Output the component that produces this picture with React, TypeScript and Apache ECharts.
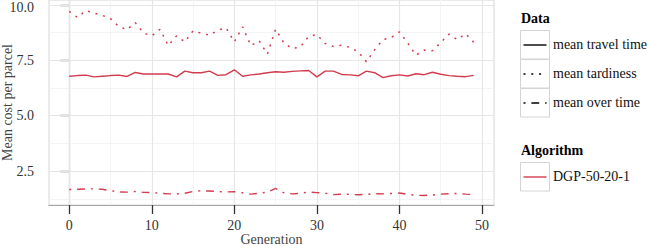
import React, { useEffect, useRef } from "react";
import * as echarts from "echarts";

const generations = [
  0, 1, 2, 3, 4, 5, 6, 7, 8, 9, 10, 11, 12, 13, 14, 15, 16, 17, 18, 19, 20, 21, 22, 23, 24,
  25, 26, 27, 28, 29, 30, 31, 32, 33, 34, 35, 36, 37, 38, 39, 40, 41, 42, 43, 44, 45, 46, 47, 48, 49,
];
const travelTime = [
  6.78, 6.81, 6.83, 6.75, 6.78, 6.81, 6.83, 6.77, 6.95, 6.88, 6.88, 6.88, 6.88, 6.75, 7.01, 6.94,
  6.94, 7.01, 6.82, 6.85, 7.07, 6.78, 6.84, 6.88, 6.94, 6.98, 6.96, 7.0, 7.02, 7.04, 6.75, 7.01,
  7.01, 6.86, 6.84, 6.8, 7.01, 6.94, 6.72, 6.8, 6.84, 6.79, 6.89, 6.85, 6.96, 6.87, 6.81, 6.78,
  6.76, 6.82,
];
const tardiness = [
  9.71, 9.43, 9.74, 9.63, 9.53, 9.38, 9.03, 8.88, 9.2, 8.73, 8.6, 8.9, 8.16, 8.6, 8.33, 8.83,
  8.72, 8.63, 8.86, 8.96, 8.33, 9.01, 8.16, 8.38, 7.78, 8.9, 8.28, 8.03, 8.1, 8.58, 8.66, 8.26,
  8.12, 8.18, 8.08, 7.88, 7.43, 7.98, 8.43, 8.53, 8.78, 8.28, 7.73, 7.96, 7.93, 8.3, 8.68, 8.43,
  8.7, 8.31,
];
const overTime = [
  1.67, 1.68, 1.69, 1.7, 1.68, 1.62, 1.56, 1.55, 1.58, 1.54, 1.53, 1.5, 1.47, 1.47, 1.5, 1.58,
  1.61, 1.6, 1.58, 1.56, 1.57, 1.52, 1.46, 1.5, 1.55, 1.72, 1.52, 1.47, 1.5, 1.55, 1.53, 1.5,
  1.44, 1.46, 1.45, 1.43, 1.45, 1.48, 1.47, 1.49, 1.51, 1.45, 1.41, 1.4, 1.42, 1.46, 1.48, 1.49,
  1.46, 1.44,
];
const xTicks = [0, 10, 20, 30, 40, 50];
const xMinorGrid = [5, 15, 25, 35, 45];
const yTicks = [2.5, 5, 7.5, 10];
const yMinorGrid = [1.25, 3.75, 6.25, 8.75];
const dataLegend = ["mean travel time", "mean tardiness", "mean over time"];
const algorithmLegend = ["DGP-50-20-1"];

const RED = "#d13c4e";
const FONT = "Liberation Serif";
const DOTTED = [2, 5.8];
const DOTDASH = [2, 5.9, 7.8, 5.9];
const dashes = [undefined, DOTTED, DOTDASH];

export default function App() {
  const ref = useRef<HTMLDivElement>(null);
  useEffect(() => {
    if (!ref.current) return;
    const chart = echarts.init(ref.current, undefined, { renderer: "svg" });
    const pairs = (vals: number[]) => vals.map((v, i) => [generations[i], v]);
    const gridLines = [
      ...yMinorGrid.map((v) => ({ yAxis: v, lineStyle: { color: "#f4f4f4", width: 1, type: "solid" } })),
      ...xMinorGrid.map((v) => ({ xAxis: v, lineStyle: { color: "#f4f4f4", width: 1, type: "solid" } })),
      ...yTicks.map((v) => ({ yAxis: v, lineStyle: { color: "#e6e6e6", width: 1.2, type: "solid" } })),
      ...xTicks.map((v) => ({ xAxis: v, lineStyle: { color: "#e6e6e6", width: 1.2, type: "solid" } })),
    ];
    const boxX = 520.5;
    const boxW = 29;
    const legendGraphics: any[] = [];
    const txt = (text: string, left: number, top: number, bold: boolean) => ({
      type: "text",
      left,
      top,
      style: {
        text,
        fontFamily: FONT,
        fontSize: 14,
        fontWeight: bold ? "bold" : "normal",
        fill: bold ? "#000" : "#111",
      },
    });
    legendGraphics.push(txt("Data", 521, 11, true));
    dataLegend.forEach((name, i) => {
      const y = 30 + i * 29;
      legendGraphics.push({
        type: "rect",
        shape: { x: boxX, y: y + 0.5, width: boxW, height: 28.5 },
        style: { fill: "#fff", stroke: "#d4d4d4", lineWidth: 1 },
      });
      legendGraphics.push({
        type: "line",
        shape: { x1: boxX + 3, y1: y + 15, x2: boxX + boxW - 3, y2: y + 15 },
        style: { stroke: "#000", lineWidth: 1.4, lineDash: dashes[i] || null, lineCap: "butt" },
      });
      legendGraphics.push(txt(name, 553, y + 7, false));
    });
    legendGraphics.push(txt("Algorithm", 521, 143, true));
    algorithmLegend.forEach((name, i) => {
      const y = 162 + i * 29;
      legendGraphics.push({
        type: "rect",
        shape: { x: boxX, y: y + 0.5, width: boxW, height: 28.5 },
        style: { fill: "#fff", stroke: "#d4d4d4", lineWidth: 1 },
      });
      legendGraphics.push({
        type: "line",
        shape: { x1: boxX + 3, y1: y + 15, x2: boxX + boxW - 3, y2: y + 15 },
        style: { stroke: RED, lineWidth: 1.4 },
      });
      legendGraphics.push(txt(name, 553, y + 7, false));
    });

    const topTick = yTicks[yTicks.length - 1];

    chart.setOption({
      animation: false,
      textStyle: { fontFamily: FONT },
      grid: {
        left: 49,
        top: 0,
        width: 445,
        height: 205,
        containLabel: false,
        outerBoundsMode: "none",
        show: true,
        backgroundColor: "#ffffff",
        borderColor: "#d6d6d6",
        borderWidth: 1,
      },
      xAxis: {
        type: "value",
        min: -2.45,
        max: 51.45,
        name: "Generation",
        nameLocation: "middle",
        nameGap: 28,
        nameMoveOverlap: false,
        nameTextStyle: { fontFamily: FONT, fontSize: 14, color: "#444", lineHeight: 12 },
        axisLine: { show: true, lineStyle: { color: "#a6a6a6", width: 1.2 } },
        axisTick: { show: true, length: 9, customValues: xTicks, lineStyle: { color: "#333", width: 1.3 } },
        axisLabel: {
          customValues: xTicks,
          margin: 13,
          fontFamily: FONT,
          fontSize: 14,
          color: "#333",
        },
        splitLine: { show: false },
      },
      yAxis: {
        type: "value",
        min: 0.97,
        max: 10.22,
        name: "Mean cost per parcel",
        nameLocation: "middle",
        nameGap: 36,
        nameMoveOverlap: false,
        nameTextStyle: { fontFamily: FONT, fontSize: 14, color: "#444", lineHeight: 12 },
        axisLine: { show: true, lineStyle: { color: "#a6a6a6", width: 1.2 } },
        axisTick: { show: true, length: 9, customValues: yTicks, lineStyle: { color: "#333", width: 1.3 } },
        axisLabel: {
          customValues: yTicks,
          margin: 15,
          fontFamily: FONT,
          fontSize: 14,
          lineHeight: 10,
          color: "#333",
          formatter: (v: number) => (v === topTick ? `{t|${v.toFixed(1)}}` : v.toFixed(1)),
          rich: {
            t: {
              fontFamily: FONT,
              fontSize: 14,
              color: "#333",
              lineHeight: 10,
              padding: [5, 0, 0, 0],
            },
          },
        },
        splitLine: { show: false },
      },
      graphic: legendGraphics,
      series: [
        {
          type: "line",
          name: "grid",
          data: [],
          z: 1,
          silent: true,
          markLine: {
            silent: true,
            z: 1,
            symbol: ["none", "none"],
            label: { show: false },
            emphasis: { disabled: true },
            data: gridLines,
          },
        },
        {
          type: "line",
          name: dataLegend[0],
          data: pairs(travelTime),
          showSymbol: false,
          symbol: "none",
          z: 3,
          lineStyle: { color: RED, width: 1.4, type: "solid" },
        },
        {
          type: "line",
          name: dataLegend[1],
          data: pairs(tardiness),
          showSymbol: false,
          symbol: "none",
          z: 3,
          lineStyle: { color: RED, width: 1.5, type: DOTTED, cap: "butt" },
        },
        {
          type: "line",
          name: dataLegend[2],
          data: pairs(overTime),
          showSymbol: false,
          symbol: "none",
          z: 3,
          lineStyle: { color: RED, width: 1.4, type: DOTDASH, cap: "butt" },
        },
      ],
    });
    return () => chart.dispose();
  }, []);
  return (
    <div
      ref={ref}
      style={{ position: "fixed", left: 0, top: 0, width: 649, height: 246, background: "#fff" }}
    />
  );
}
